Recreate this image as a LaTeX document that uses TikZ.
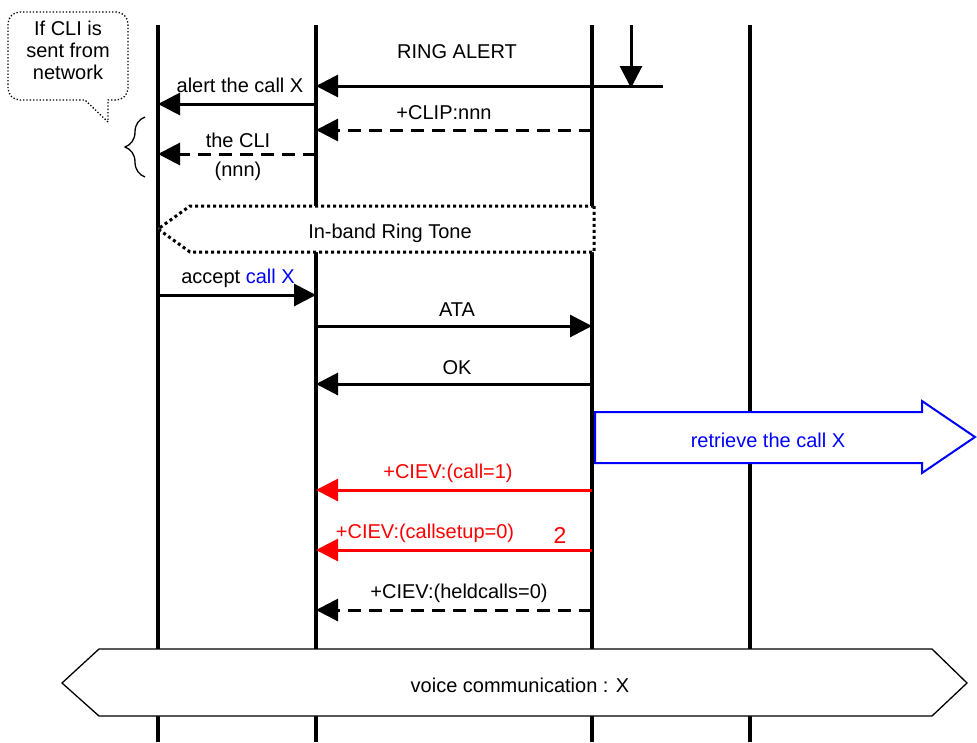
\documentclass[tikz,border=0pt]{standalone}
\usepackage{fontspec}
\setmainfont{Liberation Sans}
\usetikzlibrary{arrows.meta, decorations.pathreplacing, positioning}

\tikzset{
  lifeline/.style={line width=4pt},
  msg/.style={line width=3pt, -{Triangle[length=22pt, width=22pt]}},
  reply/.style={msg, dash pattern=on 13pt off 8pt},
  redmsg/.style={msg, red},
  lbl/.style={font=\fontsize{20}{22}\selectfont, inner sep=0pt, align=center},
  bubble/.style={line width=1.3pt, dotted},
  tone/.style={line width=3pt, dash pattern=on 3pt off 3pt, fill=white},
  bigarrow/.style={line width=2pt, draw=blue, fill=white},
  hexa/.style={line width=1.3pt, fill=white},
}

\begin{document}
\begin{tikzpicture}[x=1pt, y=-1pt]
\useasboundingbox (0,0) rectangle (977,742);

% lifelines
\coordinate (user) at (158,25);
\coordinate (hf) at (316,25);
\coordinate (ag) at (592,25);
\coordinate (net) at (750,25);
\coordinate (bottom) at (0,742);
\foreach \l in {user, hf, ag, net}
  \draw[lifeline] (\l) -- (\l |- bottom);

% message levels
\foreach \n/\y in {ring/86, alert/104, clip/130, cli/154, accept/295, ata/326,
                   ok/384, call/490, setup/550, held/610}
  \coordinate (m-\n) at (0,\y);

% note and brace
\draw[bubble] (108,122) -- (85,100) [rounded corners=12pt] -- (8,100) -- (8,12)
  -- (128,12) -- (128,100) [sharp corners] -- (108,100) -- cycle;
\node[lbl] (note) at (68,50) {If CLI is\\sent from\\network};
\draw[decorate, decoration={brace, amplitude=20pt}, line width=1.3pt]
  (145,177) -- (145,117);

% ring alert from network
\coordinate (ringtop) at (631,25);
\coordinate (ringbot) at (631,88);
\coordinate (ringstart) at (663,86);
\draw[msg] (ringtop) -- (ringbot);
\draw[msg] (ringstart) -- (hf |- m-ring);
\node[lbl] (ringlbl) at (457,52) {RING ALERT};

\draw[msg] (hf |- m-alert) -- (user |- m-alert);
\node[lbl] (alertlbl) at (240,85) {alert the call X};

\draw[reply] (ag |- m-clip) -- (hf |- m-clip);
\node[lbl] (cliplbl) at (444,113) {+CLIP:nnn};

\draw[reply] (hf |- m-cli) -- (user |- m-cli);
\node[lbl] (clilbl) at (238,140) {the CLI};
\node[lbl] (nnnlbl) at (238,171) {(nnn)};

% in-band ring tone
\draw[tone] (594,206) -- (190,206) -- (158,229) -- (190,252) -- (594,252) -- cycle;
\node[lbl] (tonelbl) at (390,233) {In-band Ring Tone};

\draw[msg] (user |- m-accept) -- (hf |- m-accept);
\node[lbl] (acceptlbl) at (238,278) {accept \textcolor{blue}{call X}};

\draw[msg] (hf |- m-ata) -- (ag |- m-ata);
\node[lbl] (atalbl) at (457,310) {ATA};

\draw[msg] (ag |- m-ok) -- (hf |- m-ok);
\node[lbl] (oklbl) at (457,368) {OK};

% retrieve
\draw[bigarrow] (595,412) -- (922,412) -- (922,401) -- (975,437) -- (922,473)
  -- (922,463) -- (595,463) -- cycle;
\node[lbl, text=blue] (retrievelbl) at (768,440) {retrieve the call X};

\draw[redmsg] (ag |- m-call) -- (hf |- m-call);
\node[lbl, text=red] (calllbl) at (448,473) {+CIEV:(call=1)};

\draw[redmsg] (ag |- m-setup) -- (hf |- m-setup);
\node[lbl, text=red] (setuplbl) at (425,533) {+CIEV:(callsetup=0)};
\node[lbl, text=red, font=\fontsize{23}{24}\selectfont] (two) at (560,535) {2};

\draw[reply] (ag |- m-held) -- (hf |- m-held);
\node[lbl] (heldlbl) at (459,593) {+CIEV:(heldcalls=0)};

% voice communication
\draw[hexa] (62,683) -- (99,649) -- (932,649) -- (967,683) -- (932,716)
  -- (99,716) -- cycle;
\node[lbl] (voicelbl) at (520,685) {voice communication : X};
\end{tikzpicture}
\end{document}
